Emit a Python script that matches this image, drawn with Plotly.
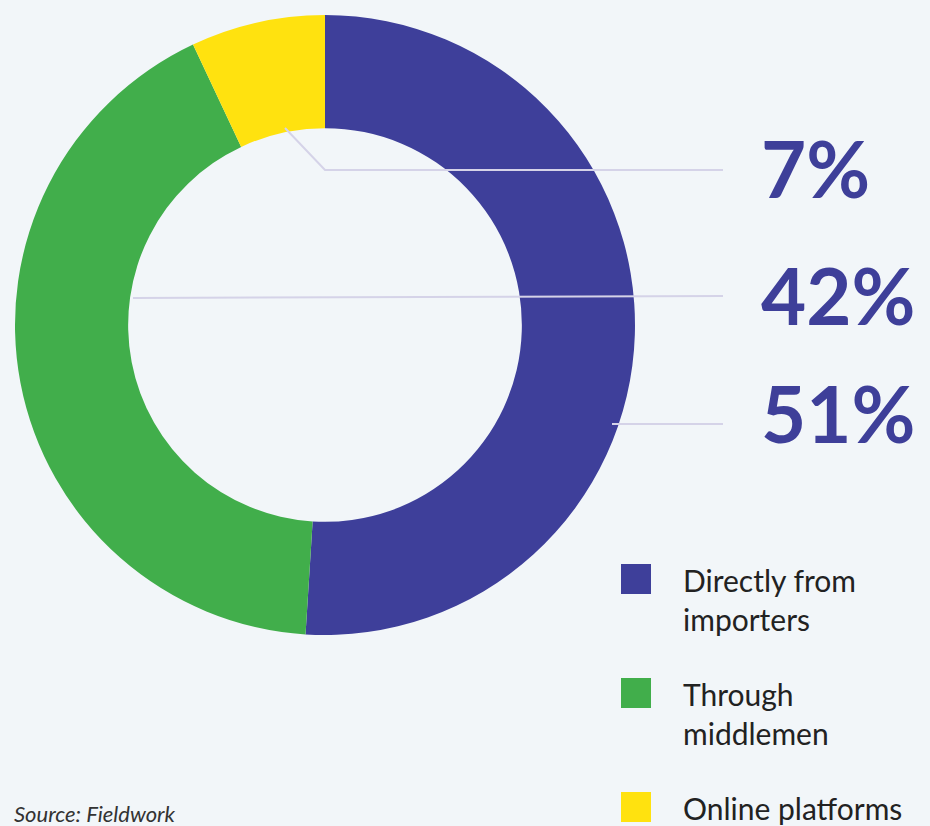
import plotly.graph_objects as go

# Distribution channels and their shares (%)
channels = ["Directly from importers", "Through middlemen", "Online platforms"]
legend_lines = ["Directly from<br>importers", "Through<br>middlemen", "Online platforms"]
shares = [51, 42, 7]
colors = ["#3e3f9a", "#41ae4b", "#ffe20f"]

# Order in which the big percentage labels are stacked on the right
label_order = [2, 1, 0]

W, H = 930, 826


def px(x):
    return x / W


def py(y):
    return 1 - y / H


fig = go.Figure()

fig.add_trace(go.Pie(
    labels=channels,
    values=shares,
    marker=dict(colors=colors, line=dict(width=0)),
    hole=0.635,
    sort=False,
    direction="clockwise",
    rotation=0,
    textinfo="none",
    hoverinfo="label+percent",
    showlegend=False,
    domain=dict(x=[px(15), px(635)], y=[py(635), py(15)]),
))

line_style = dict(color="#d5d3e8", width=2)
shapes = [
    # leader for the small online slice
    dict(type="path", xref="paper", yref="paper",
         path=f"M {px(285)} {py(128)} L {px(325)} {py(170)} L {px(723)} {py(170)}",
         line=line_style),
    # leader for middlemen
    dict(type="line", xref="paper", yref="paper",
         x0=px(133), y0=py(298), x1=px(723), y1=py(296), line=line_style),
    # leader for importers
    dict(type="line", xref="paper", yref="paper",
         x0=px(612), y0=py(424), x1=px(723), y1=py(424), line=line_style),
]

annotations = []
label_y = [168, 295, 413]
for idx, yc in zip(label_order, label_y):
    annotations.append(dict(
        xref="paper", yref="paper", x=px(759), y=py(yc),
        xanchor="left", yanchor="middle", showarrow=False,
        text=f"<b>{shares[idx]}%</b>",
        font=dict(family="Lato", size=78, color="#3e3f99"),
    ))

# Legend: coloured squares with wrapped labels
legend_tops = [564, 678, 792]
for i, top in enumerate(legend_tops):
    shapes.append(dict(
        type="rect", xref="paper", yref="paper",
        x0=px(621), x1=px(651), y0=py(top + 30), y1=py(top),
        fillcolor=colors[i], line=dict(width=0),
    ))
    annotations.append(dict(
        xref="paper", yref="paper", x=px(681), y=py(top - 4),
        xanchor="left", yanchor="top", align="left", showarrow=False,
        text=legend_lines[i],
        font=dict(family="Lato", size=30, color="#222222"),
    ))

annotations.append(dict(
    xref="paper", yref="paper", x=px(12), y=py(798),
    xanchor="left", yanchor="top", showarrow=False,
    text="<i>Source: Fieldwork</i>",
    font=dict(family="Lato", size=22, color="#333333"),
))

fig.update_layout(
    width=W, height=H,
    margin=dict(l=0, r=0, t=0, b=0),
    paper_bgcolor="#f2f6f9",
    plot_bgcolor="#f2f6f9",
    shapes=shapes,
    annotations=annotations,
)

fig.write_html("out.html")
